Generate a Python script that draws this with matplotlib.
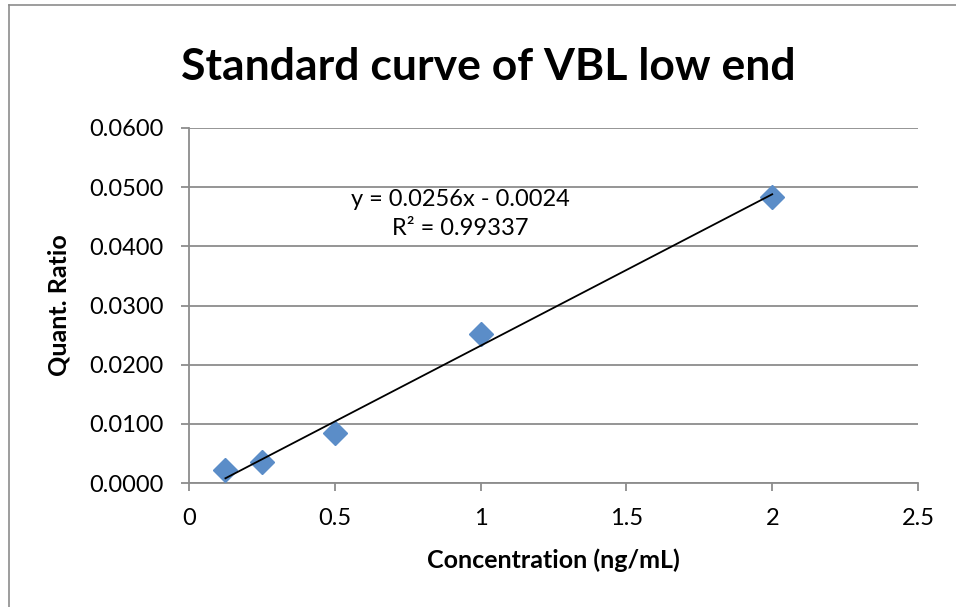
import matplotlib
matplotlib.use("Agg")
import matplotlib.pyplot as plt
from matplotlib.lines import Line2D
import numpy as np

plt.rcParams['font.family'] = ['Lato', 'DejaVu Sans']

# Calibration standards
concentration = [0.125, 0.25, 0.5, 1.0, 2.0]
quant_ratio = [0.0022, 0.0035, 0.0084, 0.0252, 0.0483]

# Linear trendline coefficients and fit quality
slope = 0.0256
intercept = -0.0024
r_squared = 0.99337

x_ticks = [0, 0.5, 1, 1.5, 2, 2.5]
x_tick_labels = ["0", "0.5", "1", "1.5", "2", "2.5"]
y_ticks = [0.0, 0.01, 0.02, 0.03, 0.04, 0.05, 0.06]
y_tick_labels = ["0.0000", "0.0100", "0.0200", "0.0300", "0.0400", "0.0500", "0.0600"]

W, H = 956, 607
fig = plt.figure(figsize=(W / 100, H / 100), dpi=100)
ax = fig.add_axes([189 / W, 1 - 483 / H, (918 - 189) / W, (483 - 128) / H])

grey = '#8c8c8c'

# Chart-area frame (left and top edges)
fig.add_artist(Line2D([9 / W, 9 / W], [0, 1 - 5 / H], transform=fig.transFigure,
                      color=grey, lw=1.2))
fig.add_artist(Line2D([9 / W, 1], [1 - 5 / H, 1 - 5 / H], transform=fig.transFigure,
                      color=grey, lw=1.2))

ax.set_xlim(0, 2.5)
ax.set_ylim(0, 0.06)
ax.set_xticks(x_ticks)
ax.set_xticklabels(x_tick_labels)
ax.set_yticks(y_ticks)
ax.set_yticklabels(y_tick_labels)

ax.yaxis.grid(True, color=grey, lw=1.3)
ax.set_axisbelow(True)
for side in ('top', 'right'):
    ax.spines[side].set_visible(False)
ax.spines['left'].set_color(grey)
ax.spines['left'].set_linewidth(1.3)
ax.spines['bottom'].set_color(grey)
ax.spines['bottom'].set_linewidth(1.3)
ax.tick_params(axis='both', direction='out', length=6, width=1.3, color=grey,
               labelsize=17, labelcolor='black')
ax.tick_params(axis='x', pad=12)
ax.tick_params(axis='y', pad=12)

# Data points
ax.plot(concentration, quant_ratio, linestyle='none', marker='D', markersize=12,
        color='#5b8dc8', zorder=3)

# Trendline over the measured range
xt = np.array([min(concentration), max(concentration)])
ax.plot(xt, slope * xt + intercept, color='black', lw=1.3, zorder=4)

sign = '-' if intercept < 0 else '+'
ax.text(0.93, 0.0455, f"y = {slope:.4f}x {sign} {abs(intercept):.4f}\nR² = {r_squared:.5f}",
        ha='center', va='center', fontsize=17, linespacing=1.5, zorder=5)

ax.set_xlabel("Concentration (ng/mL)", fontsize=18, fontweight='bold', labelpad=14)
ax.set_ylabel("Quant. Ratio", fontsize=18, fontweight='bold', labelpad=14)

fig.text(488 / W, 1 - 67 / H, "Standard curve of VBL low end", ha='center', va='center',
         fontsize=32, fontweight='bold')

fig.savefig("out.png", dpi=100)
